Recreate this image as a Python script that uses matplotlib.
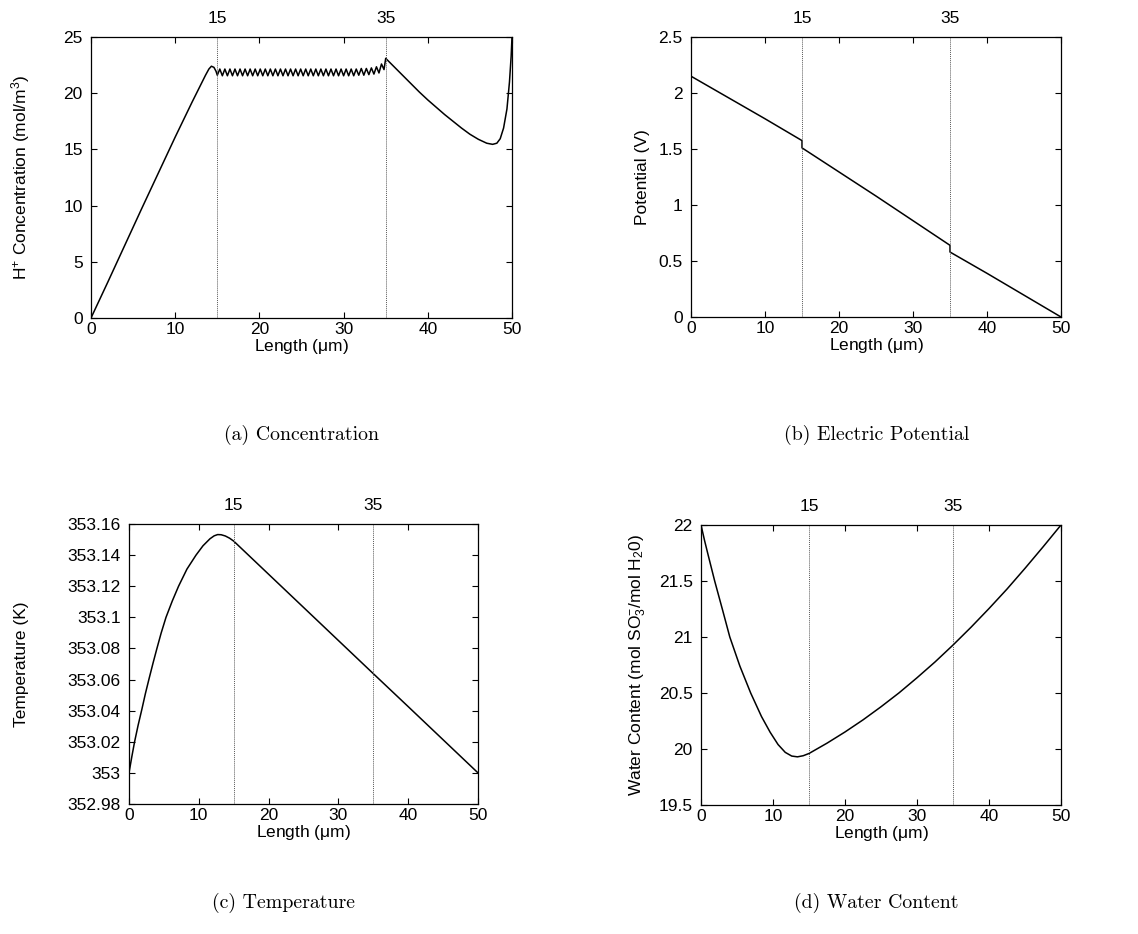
import matplotlib
matplotlib.use('Agg')
import matplotlib.pyplot as plt
from matplotlib.ticker import FormatStrFormatter, FuncFormatter

# - Fonte parecida com a Helvetica do gnuplot
plt.rcParams['font.family'] = ['Liberation Sans', 'DejaVu Sans']
plt.rcParams['mathtext.fontset'] = 'custom'
plt.rcParams['mathtext.rm'] = 'Liberation Sans'
plt.rcParams['mathtext.it'] = 'Liberation Sans'
plt.rcParams['mathtext.default'] = 'regular'

TAM = 12.5

# - Limites das camadas (linhas pontilhadas)
limites = [15, 35]

# - (a) Concentracao de H+
conc_x = [0, 2, 4, 6, 8, 10, 12, 13, 13.6, 14.0, 14.3, 14.6, 14.85,
          15.0, 15.3, 15.6, 15.9, 16.2, 16.5, 16.8, 17.1, 17.4, 17.7, 18.0, 18.3,
          18.6, 18.9, 19.2, 19.5, 19.8, 20.1, 20.4, 20.7, 21.0, 21.3, 21.6, 21.9,
          22.2, 22.5, 22.8, 23.1, 23.4, 23.7, 24.0, 24.3, 24.6, 24.9, 25.2, 25.5,
          25.8, 26.1, 26.4, 26.7, 27.0, 27.3, 27.6, 27.9, 28.2, 28.5, 28.8, 29.1,
          29.4, 29.7, 30.0, 30.3, 30.6, 30.9, 31.2, 31.5, 31.8, 32.1, 32.4, 32.7,
          33.0, 33.3, 33.6, 33.9, 34.2, 34.5, 34.8,
          35.0, 36, 37, 38, 39, 40, 41, 42, 43, 44, 45, 46, 47, 47.7, 48.2,
          48.6, 49.0, 49.4, 49.7, 49.9, 50]
conc_y = [0, 3.2, 6.45, 9.7, 12.9, 16.1, 19.2, 20.7, 21.6, 22.15, 22.4, 22.3, 21.95,
          21.6, 22.15, 21.55, 22.15, 21.55, 22.15, 21.55, 22.15, 21.55, 22.15, 21.55, 22.15,
          21.55, 22.15, 21.55, 22.15, 21.55, 22.15, 21.55, 22.15, 21.55, 22.15, 21.55, 22.15,
          21.55, 22.15, 21.55, 22.15, 21.55, 22.15, 21.55, 22.15, 21.55, 22.15, 21.55, 22.15,
          21.55, 22.15, 21.55, 22.15, 21.55, 22.15, 21.55, 22.15, 21.55, 22.15, 21.55, 22.15,
          21.55, 22.15, 21.55, 22.15, 21.55, 22.15, 21.55, 22.15, 21.6, 22.2, 21.6, 22.2,
          21.65, 22.25, 21.7, 22.35, 21.8, 22.6, 22.1,
          23.1, 22.35, 21.6, 20.85, 20.1, 19.4, 18.75, 18.1, 17.5, 16.9, 16.35, 15.9,
          15.55, 15.45, 15.55, 15.95, 16.9, 18.6, 21.0, 23.3, 25.0]

# - (b) Potencial eletrico
pot_x = [0, 5, 10, 15, 15, 20, 25, 30, 35, 35, 40, 45, 50]
pot_y = [2.15, 1.96, 1.77, 1.575, 1.51, 1.295, 1.08, 0.86, 0.64, 0.58, 0.39, 0.195, 0.0]

# - (c) Temperatura
temp_x = [0, 0.4, 0.8, 1.3, 1.85, 2.35, 2.9, 3.45, 4.0, 4.6, 5.3, 6.2, 7.1, 8.3, 9.6,
          10.6, 11.6, 12.2, 12.7, 13.2, 13.8, 14.4, 15, 20, 25, 30, 35, 40, 45, 50]
temp_y = [353.0, 353.0103, 353.02, 353.0305, 353.041, 353.051, 353.061, 353.0707,
          353.08, 353.0898, 353.10, 353.1105, 353.12, 353.131, 353.14, 353.146,
          353.1505, 353.1524, 353.1532, 353.1531, 353.1523, 353.1509, 353.149,
          353.1277, 353.1064, 353.0851, 353.0638, 353.0426, 353.0213, 353.0]

# - (d) Conteudo de agua
agua_x = [0, 0.5, 1.0, 1.9, 3.0, 4.0, 5.4, 6.9, 8.4, 9.6, 10.7, 11.7, 12.6, 13.4,
          14.2, 15, 17.5, 20, 22.5, 25, 27.5, 30, 32.5, 35, 37.5, 40, 42.5, 45,
          47.5, 50]
agua_y = [22.0, 21.86, 21.73, 21.5, 21.24, 21.0, 20.74, 20.5, 20.29, 20.15, 20.04,
          19.97, 19.937, 19.93, 19.94, 19.96, 20.052, 20.152, 20.26, 20.377, 20.501,
          20.636, 20.777, 20.928, 21.087, 21.254, 21.428, 21.613, 21.804, 22.0]

x_ticks = [0, 10, 20, 30, 40, 50]

W, H = 1138, 934


def formatar_g(valor, pos):
    return '%g' % round(valor, 4)


def caixa(esq, dir_, topo, base):
    return [esq / W, 1 - base / H, (dir_ - esq) / W, (base - topo) / H]


def montar_eixo(ax, x, y, ylim, yticks, ylabel, ylabel_px):
    ax.plot(x, y, color='black', lw=1.1)
    for lim in limites:
        ax.axvline(lim, color='0.35', lw=0.7, dashes=(1, 1))
    ax.set_xlim(0, 50)
    ax.set_ylim(*ylim)
    ax.set_xticks(x_ticks)
    ax.set_yticks(yticks)
    ax.yaxis.set_major_formatter(FuncFormatter(formatar_g))
    ax.tick_params(direction='in', top=True, right=True, length=4, width=0.8,
                   labelsize=TAM)
    ax.tick_params(axis='x', pad=3)
    ax.tick_params(axis='y', pad=6)
    ax.set_xlabel('Length ($\\mu$m)', fontsize=TAM, labelpad=0)
    ax.set_ylabel(ylabel, fontsize=TAM)
    # - posicao do rotulo y em pixels da figura
    pos = ax.get_position()
    ax.yaxis.set_label_coords((ylabel_px / W - pos.x0) / pos.width, 0.5)
    for sp in ax.spines.values():
        sp.set_linewidth(0.9)
    # - Eixo superior com os limites 15 e 35
    topo = ax.secondary_xaxis('top')
    topo.set_xticks(limites)
    topo.xaxis.set_major_formatter(FormatStrFormatter('%g'))
    topo.tick_params(length=0, labelsize=TAM, pad=8)
    topo.spines['top'].set_visible(False)


fig = plt.figure(figsize=(W / 100, H / 100), dpi=100)

ax_a = fig.add_axes(caixa(91, 512, 37, 318))
montar_eixo(ax_a, conc_x, conc_y, (0, 25), [0, 5, 10, 15, 20, 25],
            'H$^{+}$ Concentration (mol/m$^{3}$)', 32)

ax_b = fig.add_axes(caixa(691, 1061, 37, 317))
montar_eixo(ax_b, pot_x, pot_y, (0, 2.5), [0, 0.5, 1, 1.5, 2, 2.5],
            'Potential (V)', 650)

ax_c = fig.add_axes(caixa(129, 478, 524, 804))
montar_eixo(ax_c, temp_x, temp_y, (352.98, 353.16),
            [352.98, 353.0, 353.02, 353.04, 353.06, 353.08, 353.10, 353.12, 353.14, 353.16],
            'Temperature (K)', 29)

ax_d = fig.add_axes(caixa(701, 1061, 525, 805))
montar_eixo(ax_d, agua_x, agua_y, (19.5, 22), [19.5, 20, 20.5, 21, 21.5, 22],
            'Water Content (mol SO$_3^{-}$/mol H$_2$0)', 648)

# - Legendas das figuras (estilo LaTeX)
legendas = [('(a) Concentration', 302, 435), ('(b) Electric Potential', 877, 435),
            ('(c) Temperature', 283, 903), ('(d) Water Content', 876, 903)]
for texto, px, py in legendas:
    fig.text(px / W, 1 - py / H, texto, ha='center', va='center',
             fontsize=14.3, family=['cmr10', 'DejaVu Serif'])

fig.savefig('out.png', dpi=100)
